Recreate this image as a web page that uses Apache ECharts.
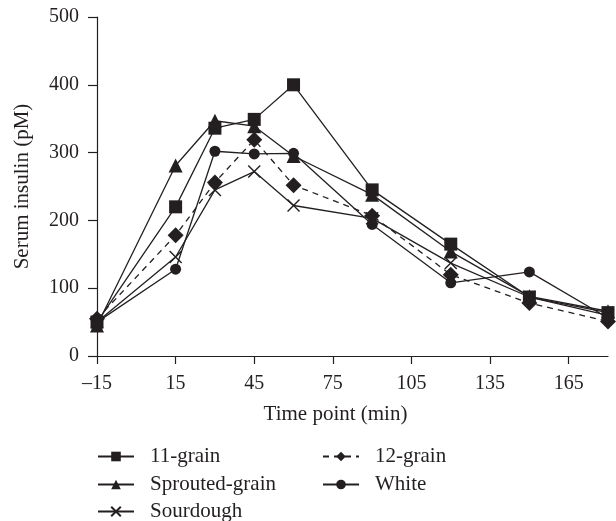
<!DOCTYPE html>
<html>
<head>
<meta charset="utf-8">
<script src="https://cdn.jsdelivr.net/npm/echarts@6/dist/echarts.min.js"></script>
<style>
html, body { margin: 0; padding: 0; background: #fff; }
#chart { width: 616px; height: 521px; }
</style>
</head>
<body>
<div id="chart"></div>
<script>
// time points (min)
var timePoints = [-15, 15, 30, 45, 60, 90, 120, 150, 180];
var xTickValues = [-15, 15, 45, 75, 105, 135, 165];

// serum insulin (pM)
var grain11 = [50, 220, 336, 349, 400, 245, 165, 87, 64];
var sprouted = [45, 281, 347, 339, 295, 238, 154, 88, 66];
var sourdough = [50, 146, 245, 272, 222, 203, 137, 87, 60];
var grain12 = [55, 178, 256, 319, 252, 207, 120, 78, 51];
var white = [50, 128, 302, 298, 299, 194, 108, 124, 56];

var ink = '#231f20';
var font = 'Liberation Serif';

function pairs(vals) {
	var out = [];
	for (var i = 0; i < timePoints.length; i++) {
		out.push([timePoints[i], vals[i]]);
	}
	return out;
}

function mkSeries(name, vals, symbol, size, dashed) {
	return {
		name: name,
		type: 'line',
		data: pairs(vals),
		symbol: symbol,
		symbolSize: size,
		clip: false,
		lineStyle: { color: ink, width: 1.3, type: dashed ? [6, 5] : 'solid' },
		itemStyle: { color: ink, borderWidth: 0 },
		emphasis: { disabled: true }
	};
}

// one legend per entry so the two columns sit where they should
function mkLegend(name, left, top) {
	return {
		data: [name],
		left: left,
		top: top,
		padding: 0,
		itemWidth: 36,
		itemHeight: 12,
		selectedMode: false,
		textStyle: { fontFamily: font, fontSize: 21, color: ink, padding: [0, 0, 0, 11] }
	};
}

var myChart = echarts.init(document.getElementById('chart'));

var crossSeries = mkSeries('Sourdough', sourdough, 'path://M0,0L10,10M10,0L0,10', 12, false);
crossSeries.itemStyle = { color: 'none', borderColor: ink, borderWidth: 1.4 };

var option = {
	animation: false,
	backgroundColor: '#fff',
	textStyle: { fontFamily: font, color: ink },
	grid: { left: 97, right: 8, top: 17, bottom: 165 },
	xAxis: {
		type: 'value',
		min: -15,
		max: 180,
		name: 'Time point (min)',
		nameLocation: 'middle',
		nameGap: 48,
		nameTextStyle: { fontFamily: font, fontSize: 21, color: ink, padding: [0, 34, 0, 0] },
		axisLine: { onZero: false, lineStyle: { color: ink, width: 1.2 } },
		axisTick: { customValues: xTickValues, length: 8, lineStyle: { color: ink, width: 1.2 } },
		axisLabel: {
			customValues: xTickValues,
			margin: 18,
			fontFamily: font,
			fontSize: 20,
			color: ink,
			formatter: function (v) { return String(v).replace('-', '\u2013'); }
		},
		splitLine: { show: false }
	},
	yAxis: {
		type: 'value',
		min: 0,
		max: 500,
		interval: 100,
		name: 'Serum insulin (pM)',
		nameLocation: 'middle',
		nameGap: 64,
		nameTextStyle: { fontFamily: font, fontSize: 21, color: ink },
		axisLine: { show: true, onZero: false, lineStyle: { color: ink, width: 1.2 } },
		axisTick: { show: true, length: 9, lineStyle: { color: ink, width: 1.2 } },
		axisLabel: { margin: 18, fontFamily: font, fontSize: 20, color: ink },
		splitLine: { show: false }
	},
	legend: [
		mkLegend('11-grain', 97, 446),
		mkLegend('Sprouted-grain', 97, 474),
		mkLegend('Sourdough', 97, 501),
		mkLegend('12-grain', 322, 446),
		mkLegend('White', 322, 474)
	],
	series: [
		mkSeries('11-grain', grain11, 'rect', 13, false),
		mkSeries('Sprouted-grain', sprouted, 'triangle', 14, false),
		crossSeries,
		mkSeries('12-grain', grain12, 'diamond', 16, true),
		mkSeries('White', white, 'circle', 11, false)
	]
};

myChart.setOption(option);
</script>
</body>
</html>
